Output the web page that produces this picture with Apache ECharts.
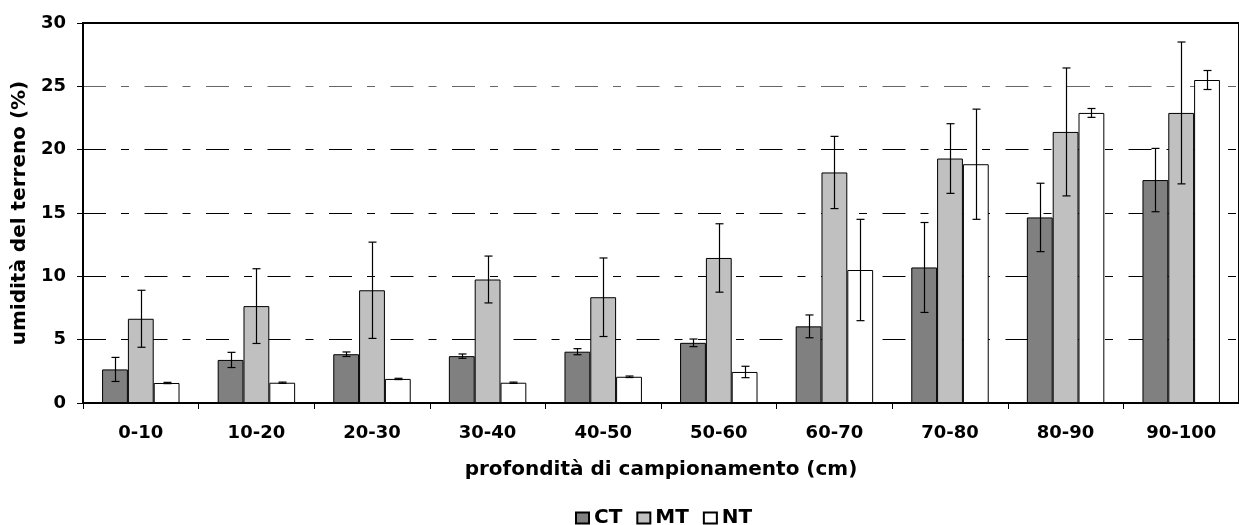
<!DOCTYPE html>
<html><head><meta charset="utf-8">
<script src="https://cdn.jsdelivr.net/npm/echarts@6/dist/echarts.min.js"></script>
<style>html,body{margin:0;padding:0;background:#fff}#c{width:1239px;height:525px}</style>
</head><body><div id="c"></div>
<script>
const categories = ['0-10','10-20','20-30','30-40','40-50','50-60','60-70','70-80','80-90','90-100'];
const ct    = [2.65, 3.4, 3.85, 3.7, 4.05, 4.75, 6.05, 10.7, 14.65, 17.6];
const ctErr = [0.95, 0.6, 0.18, 0.17, 0.24, 0.3, 0.9, 3.55, 2.7, 2.5];
const mt    = [6.65, 7.65, 8.9, 9.75, 8.35, 11.45, 18.2, 19.3, 21.4, 22.9];
const mtErr = [2.25, 2.95, 3.8, 1.85, 3.1, 2.7, 2.85, 2.75, 5.05, 5.6];
const nt    = [1.58, 1.6, 1.9, 1.6, 2.07, 2.45, 10.5, 18.85, 22.9, 25.5];
const ntErr = [0.05, 0.05, 0.05, 0.05, 0.06, 0.45, 4.0, 4.35, 0.35, 0.75];
const yTicks = [0, 5, 10, 15, 20, 25, 30];

const FONT = "'DejaVu Sans', Verdana, sans-serif";
const GAP = 0.33;

function errSeries(vals, errs, off) {
  return {
    type: 'custom',
    silent: true,
    z: 5,
    encode: { x: 0, y: 1 },
    data: vals.map((v, i) => [i, v, errs[i]]),
    renderItem: function (params, api) {
      const ci = api.value(0), v = api.value(1), e = api.value(2);
      const band = api.size([1, 0])[0];
      const bw = band * (1 - GAP) / 3;
      const c = api.coord([ci, v]);
      const x = Math.round(c[0] + off * bw) + 0.5;
      const t = api.coord([ci, v + e])[1];
      const b = api.coord([ci, v - e])[1];
      const s = { stroke: '#000', lineWidth: 1.2 };
      return { type: 'group', children: [
        { type: 'line', shape: { x1: x, y1: t, x2: x, y2: b }, style: s },
        { type: 'line', shape: { x1: x - 4, y1: t, x2: x + 4, y2: t }, style: s },
        { type: 'line', shape: { x1: x - 4, y1: b, x2: x + 4, y2: b }, style: s }
      ]};
    }
  };
}

const chart = echarts.init(document.getElementById('c'), null, { renderer: 'canvas' });
chart.setOption({
  animation: false,
  textStyle: { fontFamily: FONT },
  grid: { left: 83, right: -10, top: 23, bottom: 122, show: true, borderColor: '#000', borderWidth: 2 },
  legend: {
    data: ['CT', 'MT', 'NT'], top: 508, left: 575, padding: 0,
    icon: 'rect', itemWidth: 13, itemHeight: 11, itemGap: 14,
    textStyle: { fontFamily: FONT, fontWeight: 'bold', fontSize: 20, color: '#000' }
  },
  xAxis: {
    type: 'category', data: categories,
    axisLine: { lineStyle: { color: '#000', width: 2 } },
    axisTick: { show: true, length: 6, lineStyle: { color: '#000' } },
    axisLabel: { margin: 21, fontFamily: FONT, fontWeight: 'bold', fontSize: 18, color: '#000' },
    name: 'profondità di campionamento (cm)', nameLocation: 'middle', nameGap: 57,
    nameTextStyle: { fontFamily: FONT, fontWeight: 'bold', fontSize: 20, color: '#000' }
  },
  yAxis: {
    type: 'value', min: 0, max: 30, interval: 5,
    axisLine: { show: true, lineStyle: { color: '#000', width: 2 } },
    axisTick: { show: true, length: 6, lineStyle: { color: '#000' } },
    axisLabel: { margin: 17, fontFamily: FONT, fontWeight: 'bold', fontSize: 18, color: '#000',
      formatter: v => yTicks.includes(v) ? String(v) : '' },
    splitLine: { show: true, lineStyle: {
      color: ['#000', '#000', '#000', '#000', '#000', '#666', '#000'],
      width: 1, type: [23, 15, 8, 15.5] } },
    name: 'umidità del terreno (%)', nameLocation: 'middle', nameGap: 49, nameRotate: 90,
    nameTextStyle: { fontFamily: FONT, fontWeight: 'bold', fontSize: 20, color: '#000' }
  },
  series: [
    { name: 'CT', type: 'bar', data: ct, barGap: '0%', barCategoryGap: '33%',
      itemStyle: { color: '#808080', borderColor: '#000', borderWidth: 1 } },
    { name: 'MT', type: 'bar', data: mt,
      itemStyle: { color: '#c0c0c0', borderColor: '#000', borderWidth: 1 } },
    { name: 'NT', type: 'bar', data: nt,
      itemStyle: { color: '#ffffff', borderColor: '#000', borderWidth: 1 } },
    errSeries(ct, ctErr, -1),
    errSeries(mt, mtErr, 0),
    errSeries(nt, ntErr, 1)
  ]
});
</script></body></html>
